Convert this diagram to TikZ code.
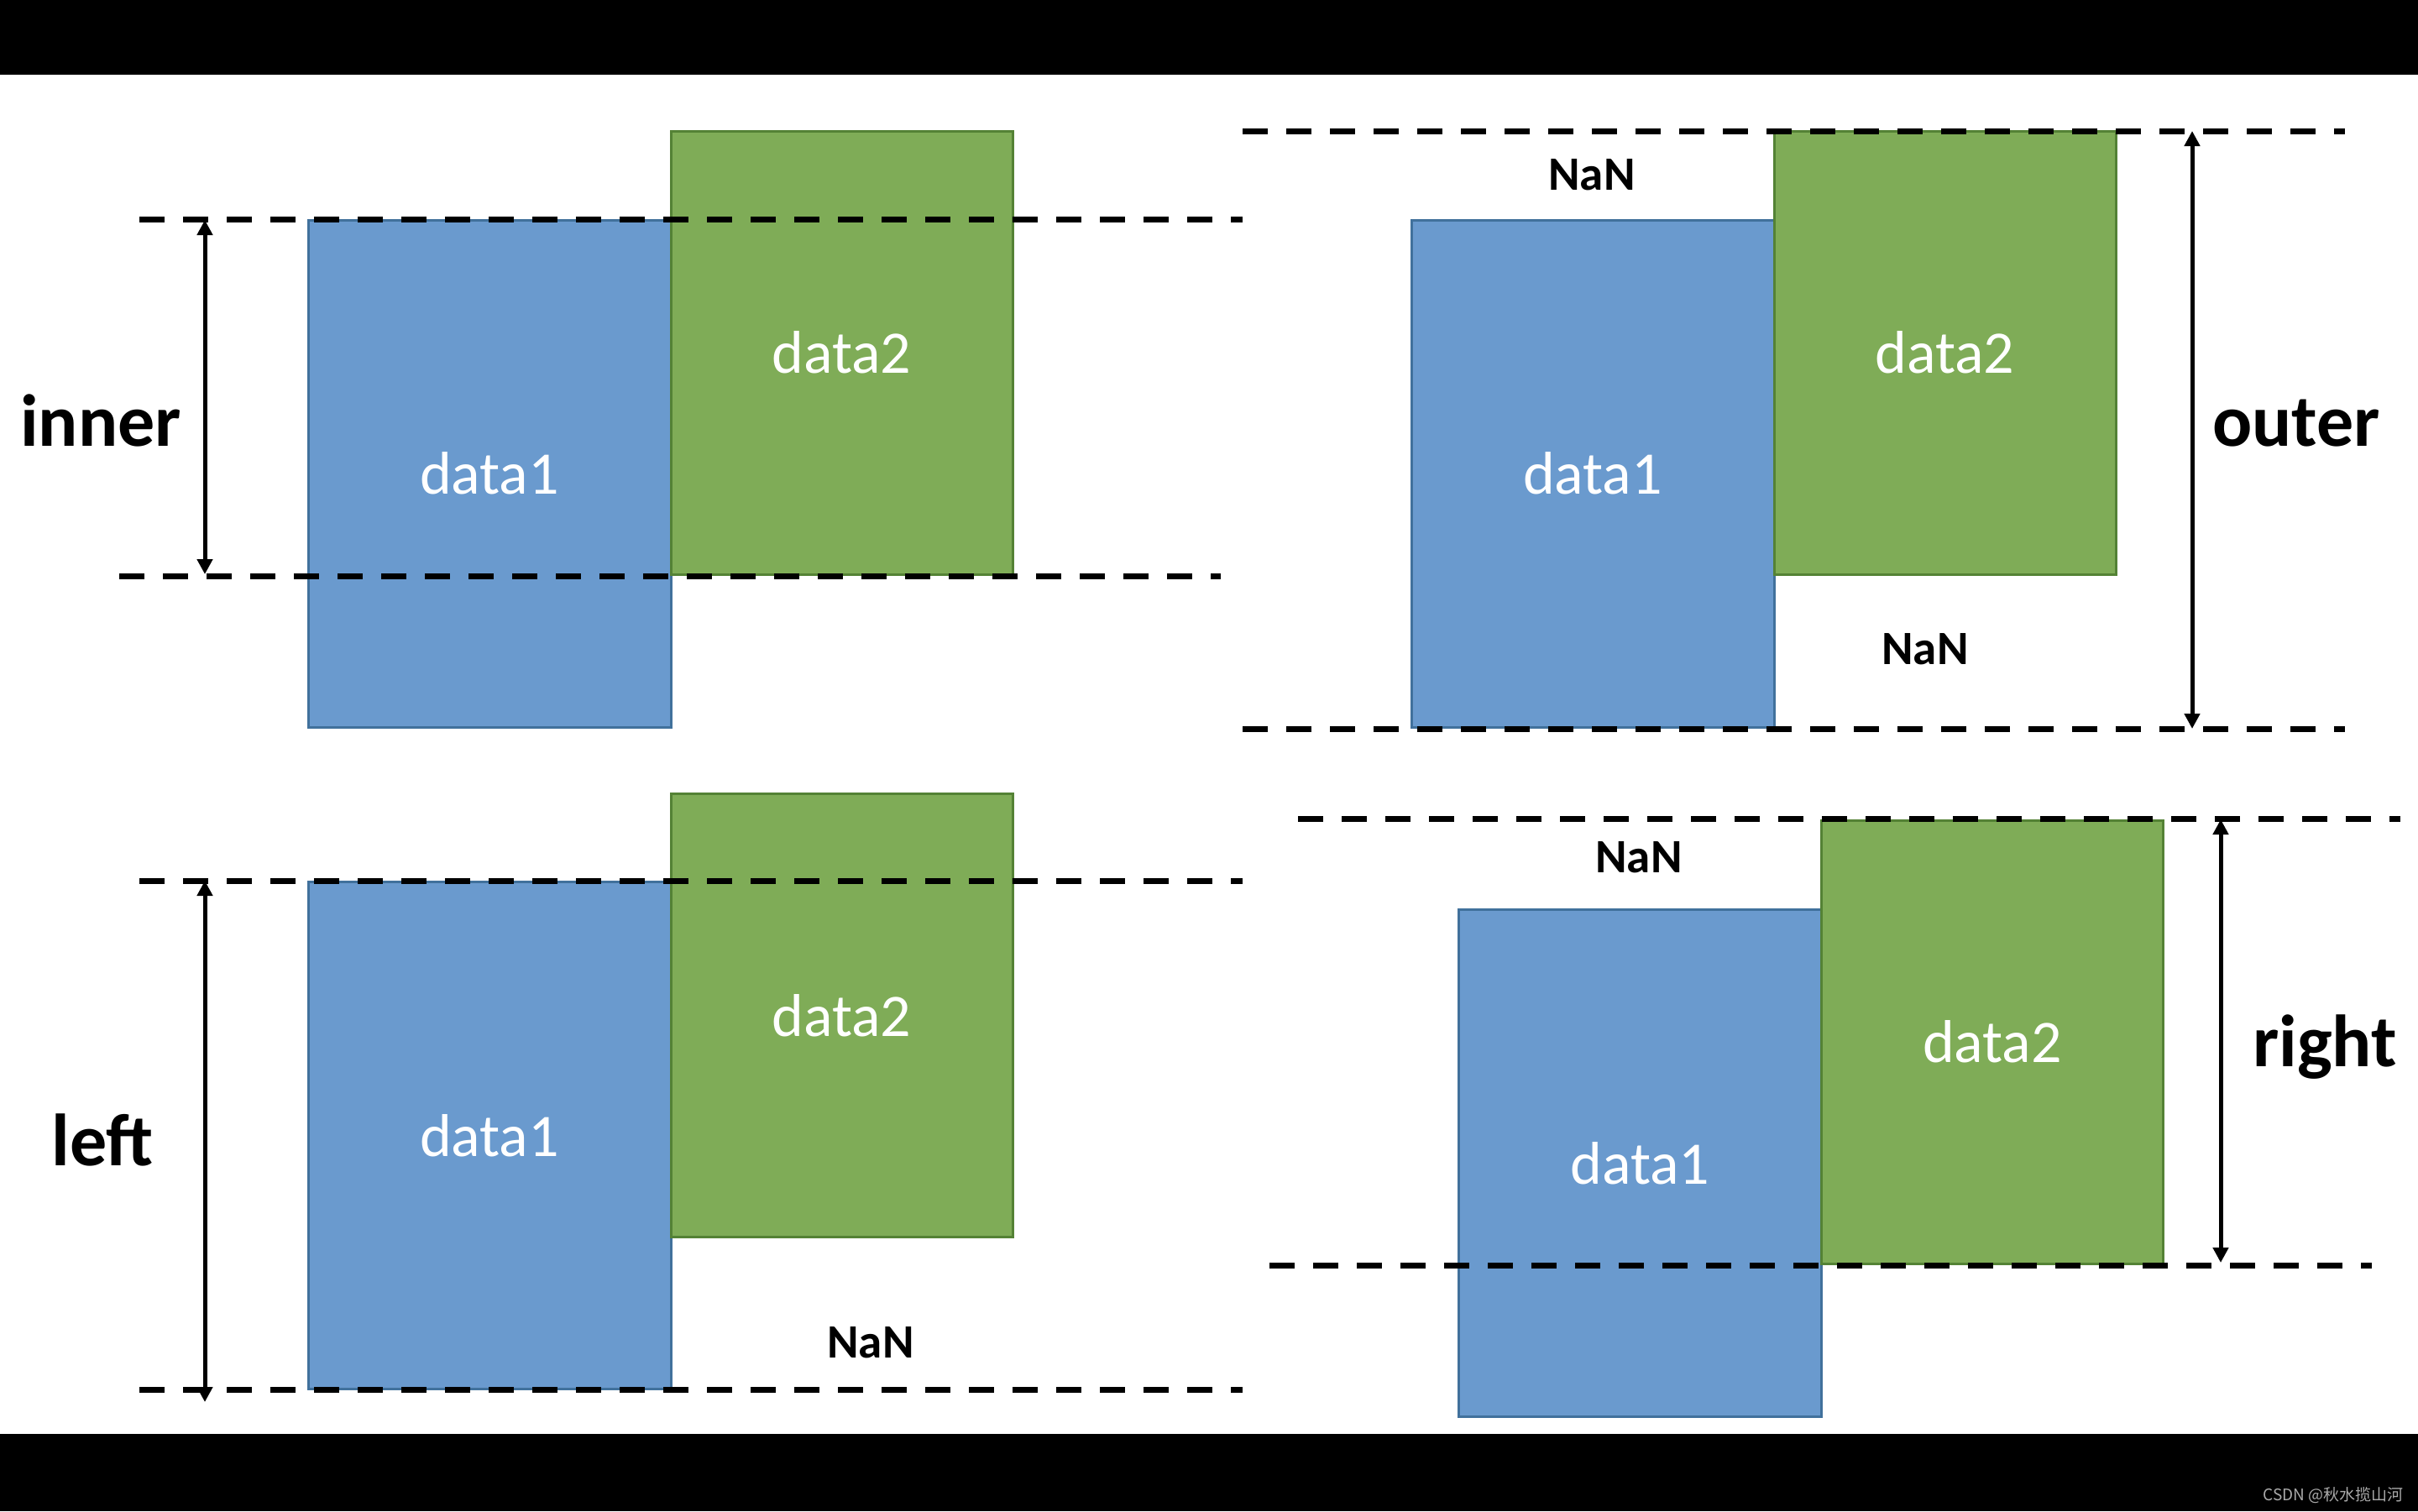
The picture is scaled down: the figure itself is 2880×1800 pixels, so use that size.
\documentclass[tikz,border=0pt]{standalone}
\usepackage{fontspec}
\setmainfont{Carlito}
\newfontfamily\cjk{Noto Sans CJK SC}
\usetikzlibrary{arrows.meta}
\definecolor{bluefill}{RGB}{106,154,206}
\definecolor{blueedge}{RGB}{65,113,156}
\definecolor{greenfill}{RGB}{127,172,87}
\definecolor{greenedge}{RGB}{84,130,53}
\definecolor{wmgray}{RGB}{170,170,170}
\begin{document}
\begin{tikzpicture}[x=1pt,y=-1pt,
  box/.style={line width=3pt,inner sep=0pt,outer sep=0pt,text=white,font=\fontsize{72}{72}\selectfont},
  blk/.style={box,fill=bluefill,draw=blueedge,minimum width=432pt,minimum height=604pt},
  grn/.style={box,fill=greenfill,draw=greenedge,minimum width=407pt,minimum height=528pt},
  guide/.style={line width=7pt,dash pattern=on 30pt off 22pt},
  span/.style={line width=5pt,{Triangle[length=18pt,width=18pt]}-{Triangle[length=18pt,width=18pt]}},
  lbl/.style={font=\bfseries\fontsize{88}{88}\selectfont,anchor=base,inner sep=0pt},
  nan/.style={font=\bfseries\fontsize{57}{57}\selectfont,anchor=base,inner sep=0pt}]
\useasboundingbox (0,0) rectangle (2880,1800);
\fill[white] (0,0) rectangle (2880,1800);
\fill[black] (0,0) rectangle (2880,89);
\fill[black] (0,1708) rectangle (2880,1800);

% ---------- inner ----------
\node[blk] (ib) at (583,564) {data1};
\node[grn] (ig) at (1002.5,420) {data2};
\coordinate (it1) at (166,261);  \coordinate (it2) at (1480,261);
\coordinate (ib1) at (142,686);  \coordinate (ib2) at (1454,686);
\draw[guide] (it1) -- (it2);
\draw[guide] (ib1) -- (ib2);
\coordinate (ia1) at (244,262); \coordinate (ia2) at (244,684);
\draw[span] (ia1) -- (ia2);
\node[lbl] (il) at (120,531) {inner};

% ---------- outer ----------
\node[blk] (ob) at (1897,564) {data1};
\node[grn] (og) at (2316.5,420) {data2};
\coordinate (ot1) at (1480,156); \coordinate (ot2) at (2793,156);
\coordinate (obl1) at (1480,868); \coordinate (obl2) at (2793,868);
\draw[guide] (ot1) -- (ot2);
\draw[guide] (obl1) -- (obl2);
\coordinate (oa1) at (2611,156); \coordinate (oa2) at (2611,868);
\draw[span] (oa1) -- (oa2);
\node[lbl] (ol) at (2735,531) {outer};
\node[nan] (on1) at (1896,226) {NaN};
\node[nan] (on2) at (2293,791) {NaN};

% ---------- left ----------
\node[blk] (lb) at (583,1352.5) {data1};
\node[grn] (lg) at (1002.5,1209.5) {data2};
\coordinate (lt1) at (166,1049); \coordinate (lt2) at (1480,1049);
\coordinate (lbl1) at (166,1655); \coordinate (lbl2) at (1480,1655);
\draw[guide] (lt1) -- (lt2);
\draw[guide] (lbl1) -- (lbl2);
\coordinate (la1) at (244,1049); \coordinate (la2) at (244,1670);
\draw[span] (la1) -- (la2);
\node[lbl] (ll) at (122,1388) {left};
\node[nan] (ln) at (1037,1617) {NaN};

% ---------- right ----------
\node[blk] (rb) at (1953.5,1385.5) {data1};
\node[grn] (rg) at (2373,1241) {data2};
\coordinate (rt1) at (1546,975); \coordinate (rt2) at (2859,975);
\coordinate (rbl1) at (1512,1507); \coordinate (rbl2) at (2825,1507);
\draw[guide] (rt1) -- (rt2);
\draw[guide] (rbl1) -- (rbl2);
\coordinate (ra1) at (2645,976); \coordinate (ra2) at (2645,1504);
\draw[span] (ra1) -- (ra2);
\node[lbl] (rl) at (2769,1270) {right};
\node[nan] (rn) at (1952,1039) {NaN};

% watermark
\node[anchor=base east,inner sep=0pt,text=wmgray,font=\cjk\fontsize{19}{19}\selectfont] (wm) at (2863,1787) {CSDN @秋水揽山河};
\end{tikzpicture}
\end{document}
